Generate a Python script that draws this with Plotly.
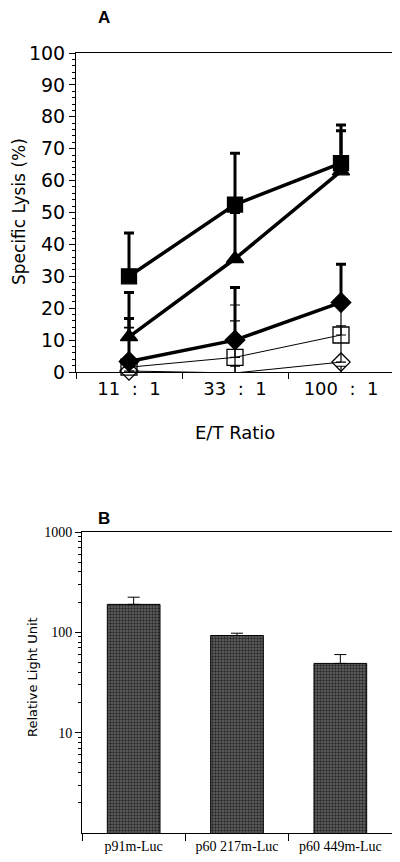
import plotly.graph_objects as go

# ---------------- Panel A data ----------------
ratios = ["11\u00a0\u00a0:\u00a0\u00a01", "33\u00a0\u00a0:\u00a0\u00a01", "100\u00a0\u00a0:\u00a0\u00a01"]

sq_filled = [30, 52.5, 65.5]
sq_filled_err = [13.6, 16.1, 11.9]
tri_filled = [11, 35.5, 63]
tri_filled_err = [13.9, 14.5, 12.6]
dia_filled = [3.3, 10, 21.8]
dia_filled_err = [13.5, 16.5, 12.0]
sq_open = [1.5, 4.6, 11.6]
sq_open_err = [12.5, 16.4, 2.9]
dia_open = [0.3, -0.3, 3.1]
dia_open_err = [13.5, 16.3, 17.5]
tri_open = [-1.2, -1.2, -1.2]
tri_open_err = [3, 3, 3]

# ---------------- Panel B data ----------------
constructs = ["p91m-Luc", "p60 217m-Luc", "p60 449m-Luc"]
rlu = [190, 93, 49]
rlu_err = [34, 5, 11]

W, H = 400, 862
OFF = 8  # page body margin offset
def px(x): return (x - OFF) / W
def py(y): return 1 - (y - OFF) / H

fig = go.Figure()

series = [
    (sq_open, sq_open_err, "square-open", 16, 1.0, 1.2),
    (dia_open, dia_open_err, "diamond-open", 14, 1.0, 1.2),
    (tri_open, tri_open_err, "triangle-up-open", 16, 1.0, 1.2),
    (dia_filled, dia_filled_err, "diamond", 15, 3.5, 3.0),
    (tri_filled, tri_filled_err, "triangle-up", 15, 3.5, 3.0),
    (sq_filled, sq_filled_err, "square", 15, 3.5, 3.0),
]
for vals, errs, sym, size, lw, ew in series:
    fig.add_trace(go.Scatter(
        x=ratios, y=vals, mode="lines+markers",
        line=dict(color="black", width=lw),
        marker=dict(symbol=sym, size=size, color="black",
                    line=dict(color="black", width=1.3)),
        error_y=dict(type="data", array=errs, arrayminus=[0]*len(errs),
                     symmetric=False, color="black", thickness=ew, width=5),
        cliponaxis=False, showlegend=False,
        xaxis="x", yaxis="y",
    ))

fig.add_trace(go.Bar(
    x=constructs, y=rlu, width=0.51,
    marker=dict(color="#5a5a5a", line=dict(color="black", width=1),
                pattern=dict(shape=".", fgcolor="#2a2a2a", bgcolor="#666666",
                             size=3, solidity=0.5, fillmode="replace")),
    error_y=dict(type="data", array=rlu_err, arrayminus=[0]*3, symmetric=False,
                 color="black", thickness=1, width=6),
    showlegend=False, xaxis="x2", yaxis="y2",
))

sans = "DejaVu Sans"
serif = "Liberation Serif"

fig.update_layout(
    template="none",
    width=W, height=H, margin=dict(l=0, r=0, t=0, b=0, pad=0),
    paper_bgcolor="white", plot_bgcolor="white",
    xaxis=dict(domain=[px(76), px(394)], anchor="y", type="category",
               range=[-0.5, 2.5], tickson="boundaries", ticks="outside",
               ticklen=6, tickwidth=1, tickcolor="black", automargin=False,
               showline=True, linecolor="black", linewidth=1, mirror=True,
               showgrid=False, zeroline=False,
               tickfont=dict(family=sans, size=18, color="black")),
    yaxis=dict(domain=[py(372), py(53)], anchor="x", range=[0, 100],
               dtick=10, ticks="outside", ticklen=6, tickwidth=1, tickcolor="black",
               minor=dict(dtick=2, ticks="outside", ticklen=3, tickcolor="black", tickwidth=1),
               showline=True, linecolor="black", linewidth=1, mirror=True,
               showgrid=False, zeroline=False, automargin=False,
               tickfont=dict(family=sans, size=19, color="black")),
    xaxis2=dict(domain=[px(82), px(392)], anchor="y2", type="category",
                range=[-0.5, 2.5], tickson="boundaries", ticks="outside",
                ticklen=7, tickwidth=1, tickcolor="black", automargin=False,
                showline=True, linecolor="black", linewidth=1, mirror=True,
                showgrid=False, zeroline=False,
                tickfont=dict(family=serif, size=14, color="black")),
    yaxis2=dict(domain=[py(833), py(532)], anchor="x2", type="log",
                range=[0, 3], tickmode="array", tickvals=[10, 100, 1000],
                ticktext=["10", "100", "1000"], automargin=False,
                ticks="outside", ticklen=6, tickwidth=1, tickcolor="black",
                minor=dict(tickmode="array",
                           tickvals=[m * d for d in (1, 10, 100) for m in range(2, 10)],
                           ticks="outside", ticklen=3, tickcolor="black", tickwidth=1),
                showline=True, linecolor="black", linewidth=1, mirror=True,
                showgrid=False, zeroline=False,
                tickfont=dict(family=serif, size=14, color="black")),
    annotations=[
        dict(text="<b>A</b>", x=px(104), y=py(17), xref="paper", yref="paper",
             xanchor="center", yanchor="middle",
             showarrow=False, font=dict(family="Liberation Sans", size=17, color="black")),
        dict(text="<b>B</b>", x=px(104), y=py(518), xref="paper", yref="paper",
             xanchor="center", yanchor="middle",
             showarrow=False, font=dict(family="Liberation Sans", size=17, color="black")),
        dict(text="Specific Lysis (%)", x=px(19), y=py(212), xref="paper", yref="paper",
             xanchor="center", yanchor="middle",
             showarrow=False, textangle=-90, font=dict(family=sans, size=17, color="black")),
        dict(text="E/T Ratio", x=px(235), y=py(432), xref="paper", yref="paper",
             xanchor="center", yanchor="middle",
             showarrow=False, font=dict(family=sans, size=18, color="black")),
        dict(text="Relative Light Unit", x=px(32), y=py(677), xref="paper", yref="paper",
             xanchor="center", yanchor="middle",
             showarrow=False, textangle=-90, font=dict(family=sans, size=13, color="black")),
    ],
)

fig.write_html("out.html")
